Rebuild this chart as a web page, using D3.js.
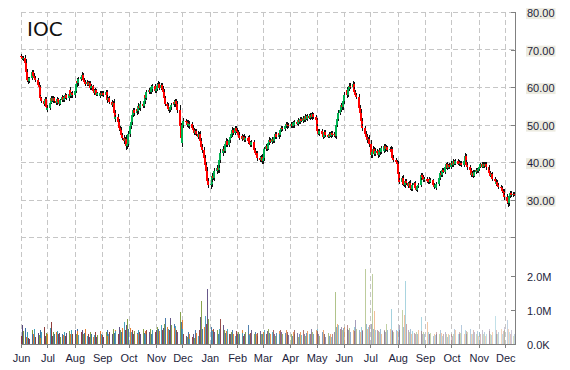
<!DOCTYPE html>
<meta charset="utf-8">
<head>
<style>
	body { margin: 0; background: #fff; }
	svg { display: block; font-family: "DejaVu Sans", Verdana, sans-serif; }
	.grid line { stroke: #c6c6c6; stroke-dasharray: 5,3; shape-rendering: crispEdges; }
	.axis path, .axis line { stroke: #808080; shape-rendering: crispEdges; }
	.axis text { fill: #1e1e3c; font-size: 11px; }
</style>
</head>
<body>
	<div id="chartId"></div>
</body>
<script src="https://d3js.org/d3.v7.min.js"></script>
<script>

var ticker = "IOC";
var firstDay = new Date(2011, 5, 1);
var lastDay = new Date(2012, 11, 11);
var priceTicks = [20, 30, 40, 50, 60, 70, 80];
var volumeTicks = [0, 1, 2];   // millions
var firstOpen = 68.3;

// daily closes, one line per month (Jun 2011 .. Dec 2012)
var closes = [
	68.0,67.5,67.8, 66.5,64.0,62.0,61.5,62.3, 63.5,64.0,63.0,62.5,61.8, 60.5,60.0,57.5,57.0,56.2, 55.6,56.8,54.6,53.8,
	54.5, 55.8,57.2,56.4,57.0,56.2, 55.7,56.8,56.0,55.4,56.6, 57.3,56.5,57.2,57.8,57.0, 58.2,59.3,57.6,58.4,57.8,
	59.0,60.8,61.6,61.0,62.2, 62.8,63.2,62.0,61.4,60.8, 61.3,60.6,61.0,59.8,60.2, 59.0,58.4,59.2,58.0,58.3, 57.6,58.4,58.0,
	58.5,57.8, 58.6,57.2,56.5,57.0,56.0, 55.2,55.8,53.0,51.5,52.0, 50.8,49.0,48.6,47.2,46.5, 45.5,46.2,44.2,44.8,47.5,
	49.5,50.8,52.6,53.8,53.0, 54.2,53.5,55.0,54.3,55.6, 55.0,56.2,57.8,57.2,58.6, 59.3,58.8,60.0,59.4,60.2, 59.0,
	59.6,60.4,60.8,59.8, 60.5,59.5,58.8,57.0,55.5, 55.0,54.2,53.8,54.6,55.2, 56.0,55.4,56.2,55.6,54.0, 49.5,46.5,45.0,
	49.8,51.0, 50.6,49.8,50.4,49.5,50.2, 49.2,48.5,47.8,48.3,47.6, 46.8,47.5,45.5,44.0,43.2, 41.0,39.2,37.5,35.0,33.8,
	34.2,35.5,36.4,35.8,37.6, 38.5,37.8,39.2,40.6,42.5, 43.6,43.0,44.8,45.5,44.6, 45.8,46.8,47.5,48.6,47.8, 49.0,48.4,
	48.0,47.2,46.5, 47.0,46.2,46.8,45.9,46.4, 45.5,46.6,45.2,44.6,45.3, 43.2,42.5,41.8,42.3,41.0, 40.6,41.4,40.2,
	41.0,43.5, 44.2,43.6,45.2,46.0,45.4, 46.2,45.6,46.8,47.5,46.6, 47.8,47.2,48.5,49.2,48.8, 49.6,50.2,49.5,50.0,49.6,
	50.2,49.6,50.4,49.8,50.6, 50.2,51.2,50.6,51.6,51.0, 51.8,51.2,52.2,51.5,52.4, 51.8,52.6,51.9,52.8,52.0, 51.2,
	49.5,48.2,47.6,48.3, 47.5,46.8,47.6,48.0,47.2, 46.8,47.5,47.0,47.8,47.2, 47.5,46.9,50.0,51.6,53.2, 54.0,55.2,54.6,56.4,
	57.8, 59.2,58.0,59.6,60.4,60.0, 60.8,59.5,58.6,58.0,57.4, 54.5,53.2,51.0,49.5,49.0, 47.6,46.8,45.8,46.2,44.8,
	42.0,42.8,43.5,42.2,43.0, 42.4,41.8,43.2,42.6,43.8, 43.0,44.2,43.4,44.0,43.2, 43.6,42.8,43.4,41.2,40.6, 40.0,39.6,
	36.8,35.2,34.6, 35.8,34.2,33.8,35.0,34.4, 33.6,34.5,33.2,32.8,33.9, 34.3,33.1,32.6,33.5,34.0, 35.8,36.6,36.0,35.2,35.6,
	35.0,34.6,35.4,34.8,35.2, 34.0,33.4,33.8,33.2,34.2, 35.8,37.2,36.6,38.0,37.4, 38.6,39.4,38.5,39.2,38.6,
	39.8,39.2,40.2,39.6,40.4, 39.5,40.0,39.4,39.8,39.2, 40.2,41.6,40.0,39.3,38.6, 37.8,36.5,37.2,36.4,37.4, 38.0,37.6,38.2,
	38.8,39.4, 38.8,39.6,39.0,39.5,38.6, 38.0,37.2,36.4,36.8,35.6, 35.0,34.2,34.8,33.8,33.4, 33.0,32.4,32.0,31.2,30.6,
	29.5,29.0,31.0,31.8,31.2, 31.6,31.4
];

// how far each day's high / low reach past the candle body
var wicks = [
	.5,.4,.6, .8,1.0,.7,.6,.5, .4,.6,.5,.7,.4, .5,.8,.6,.5,.4, .7,.5,.6,.5,
	.5, .6,.4,.5,.7,.4, .5,.6,.4,.5,.3, .5,.4,.6,.5,.4, .6,.7,.5,.4,.6,
	.6,.5,.7, .4,.6,.5,.7,.5, .4,.6,.5,.4,.5, .6,.5,.4,.6,.5, .4,.5,.6,.4,.5,
	.5,.4, .6,.5,.7,.4,.6, .5,.6,.9,.8,.6, .7,.8,.6,.7,.5, .8,.6,.9,.7,.8,
	.9,.7,.8,.6,.7, .5,.6,.7,.5,.6, .5,.6,.7,.5,.6, .5,.7,.6,.5,.6, .7,
	.5,.6,.7,.5, .6,.5,.7,.8,.6, .5,.7,.6,.5,.6, .5,.6,.7,.5,.8, 1.2,1.0,.9,
	.9,.7, .6,.5,.7,.5,.6, .5,.6,.7,.5,.6, .7,.6,.8,.9,.7, .8,1.0,.9,1.1,.8,
	.9,.8,.7,.6,.8, .7,.6,.8,.7,.9, .8,.7,.6,.8,.7, .6,.7,.5,.8,.6, .7,.6,
	.6,.5,.7, .5,.6,.4,.6,.5, .6,.5,.7,.5,.6, .7,.6,.5,.7,.6, .6,.5,.7,
	.7,.6, .5,.6,.5,.7,.4, .6,.5,.4,.6,.5, .4,.5,.6,.5,.4, .5,.4,.6,.5,.4,
	.5,.4,.5,.4,.6, .4,.5,.4,.5,.4, .5,.4,.6,.4,.5, .4,.5,.4,.6,.4, .5,
	.6,.7,.5,.6, .5,.6,.4,.5,.6, .4,.5,.4,.5,.4, .5,.4,.8,.7,.6, .7,.6,.8,.7,
	.8, .7,.8,.6,.7,.6, .7,.6,.5,.6,.5, .8,.7,.9,.7,.6, .7,.6,.8,.6,.9,
	1.0,.8,.7,.6,.7, .5,.6,.5,.6,.5, .6,.5,.6,.5,.4, .5,.6,.5,.7,.6, .5,.6,
	.7,.6,.5, .6,.7,.5,.6,.5, .4,.5,.6,.5,.4, .5,.6,.4,.5,.4, .6,.5,.4,.5,.4,
	.5,.4,.5,.4,.5, .4,.5,.4,.6,.5, .6,.5,.6,.5,.4, .5,.4,.5,.4,.5,
	.5,.4,.5,.4,.5, .4,.5,.4,.5,.4, .5,.9,.6,.5,.6, .7,.6,.5,.6,.5, .5,.4,.5,
	.5,.4, .5,.4,.5,.4,.6, .5,.6,.5,.4,.6, .5,.6,.4,.5,.6, .5,.6,.5,.7,.6,
	.8,.9,.6,.5,.6, .4,.5
];

// daily volume in millions
var volumes = [
	.25,.55,.38, .48,.22,.36,.18,.15, .42,.3,.28,.45,.2, .33,.27,.4,.19,.35, .5,.24,.31,.26,
	.3, .48,.66,.25,.34,.3, .36,.38,.28,.31,.22, .29,.27,.35,.24,.32, .38,.26,.3,.41,.28,
	.4,.3,.44,.38,.27, .35,.42,.29,.33,.45, .25,.3,.22,.36,.28, .2,.26,.34,.21,.27, .32,.38,.3,
	.26,.2, .34,.42,.25,.3,.36, .28,.45,.33,.4,.38, .3,.5,.42,.35,.48, .64,.4,.55,.75,.45,
	.48,.36,.42,.3,.38, .33,.28,.4,.35,.3, .44,.32,.37,.3,.4, .34,.45,.29,.38,.42, .36,
	.4,.5,.45,.38, .55,.42,.48,.6,.77, .5,.45,.4,.77,.55, .6,.48,.52,.4,.35, .95,.65,.7,
	.45,.3, .25,.2,.35,.28,.15, .22,.3,.18,.4,.33, .25,.42,.8,1.27,.45, .5,.83,.6,1.61,.73,
	.5,.42,.38,.45,.36, .4,.3,.35,.45,.74, .57,.4,.32,.38,.45, .3,.28,.35,.42,.3, .25,.38,
	.3,.35,.28, .4,.32,.25,.3,.36, .57,.3,.27,.33,.4, .28,.35,.3,.25,.32, .38,.28,.3,
	.35,.42, .3,.38,.45,.32,.28, .36,.4,.3,.25,.33, .38,.3,.42,.35,.28, .32,.4,.3,.36,.27,
	.3,.25,.35,.28,.4, .32,.22,.3,.36,.27, .42,.3,.25,.33,.38, .28,.3,.45,.35,.3, .4,
	.45,.38,.3,.25, .35,.42,.3,.28,.2, .32,.25,.3,.22,.28, .35,1.54,.5,.6,.55, .45,.5,.4,.48,
	.5, .45,.55,.4,.48,.35, .42,.5,.38,.72,.45, .4,.35,.5,.42,.38, 2.22,.6,.45,.5,.55,
	.6,2.06,.45,.96,.4, .42,.38,.35,.45,.3, .38,.42,.35,.6,.4, .45,1.03,.38,.42,.35, .4,.38,
	.45,.4,.55, 1.0,.5,.86,1.86,.6, .4,.35,.45,.3,.38, .32,.28,.35,.3,.42, .8,.38,.3,.35,.28,
	.65,.35,.3,.28,.33, .25,.3,.27,.35,.28, .3,.4,.33,.25,.3, .35,.28,.22,.3,.26,
	.3,.25,.28,.45,.4, .3,.35,.28,.32,.55, .3,.42,.38,.3,.35, .45,.3,.28,.4,.35, .3,.38,.25,
	.35,.3, .4,.28,.35,.25,.3, .38,.45,.3,.27,.35, .83,.4,.28,.3,.35, .45,.3,.38,.5,.42,
	.7,.45,.35,.3,.4, .25,.3
];

var volColors = ['#8e3b39', '#5a4a80', '#7d9b3d', '#3b71a5', '#e27a2c', '#3f9fb8'];
var upColor = '#00b050', downColor = '#ff0000';

var width = 570, height = 370;
var plotLeft = 21, plotRight = 515, plotTop = 12, priceBottom = 237, volBottom = 344;

var svg = d3.select('#chartId').append('svg')
	.attr('width', width)
	.attr('height', height);

svg.append('rect').attr('width', width).attr('height', height).attr('fill', '#fff');

// trading days = weekdays
var days = d3.timeDay.range(firstDay, d3.timeDay.offset(lastDay, 1)).filter(function(d) {
	return d.getDay() > 0 && d.getDay() < 6;
});

var data = days.map(function(d, i) {
	var c = closes[i];
	var o = i ? closes[i - 1] : firstOpen;
	return {
		date: d, open: o, close: c,
		high: Math.max(o, c) + wicks[i],
		low: Math.min(o, c) - wicks[i],
		vol: volumes[i]
	};
});

var x = d3.scaleTime()
	.domain([firstDay, d3.timeDay.offset(lastDay, 1)])
	.range([plotLeft, plotRight]);

var yPrice = d3.scaleLinear().domain([20, 80]).range([priceBottom, plotTop]);
var yVol = d3.scaleLinear().domain([0, 2]).range([volBottom, 276]);

var months = d3.timeMonth.range(firstDay, x.domain()[1]);

// grid
var grid = svg.append('g').attr('class', 'grid');
grid.selectAll('.h').data(priceTicks).enter().append('line')
	.attr('x1', plotLeft).attr('x2', plotRight)
	.attr('y1', function(d) { return Math.round(yPrice(d)) + 0.5; })
	.attr('y2', function(d) { return Math.round(yPrice(d)) + 0.5; });
grid.selectAll('.v').data(months).enter().append('line')
	.attr('x1', function(d) { return Math.round(x(d)) + 0.5; })
	.attr('x2', function(d) { return Math.round(x(d)) + 0.5; })
	.attr('y1', plotTop).attr('y2', volBottom);

// volume bars
var fade = d3.scaleLinear().domain([0, 180, 280, data.length - 1]).range([1, 0.9, 0.5, 0.3]);
svg.append('g').selectAll('rect').data(data).enter().append('rect')
	.attr('x', function(d) { return Math.round(x(d.date)); })
	.attr('width', 1)
	.attr('y', function(d) { return yVol(d.vol); })
	.attr('height', function(d) { return volBottom - yVol(d.vol); })
	.attr('fill', function(d, i) { return volColors[i % volColors.length]; })
	.attr('fill-opacity', function(d, i) { return fade(i); })
	.attr('shape-rendering', 'crispEdges');

// candles: one group per day, wick first then the body on top
var candles = svg.append('g').attr('shape-rendering', 'crispEdges')
	.selectAll('g').data(data).enter().append('g');

candles.append('rect')
	.attr('x', function(d) { return Math.round(x(d.date)); })
	.attr('width', 1)
	.attr('y', function(d) { return yPrice(d.high); })
	.attr('height', function(d) { return yPrice(d.low) - yPrice(d.high); })
	.attr('fill', '#111');

candles.append('rect')
	.attr('x', function(d) { return Math.round(x(d.date)) - 1; })
	.attr('width', 2)
	.attr('y', function(d) { return yPrice(Math.max(d.open, d.close)); })
	.attr('height', function(d) { return Math.max(1, Math.abs(yPrice(d.open) - yPrice(d.close))); })
	.attr('fill', function(d) { return d.close >= d.open ? upColor : downColor; });

// right axis line
svg.append('line')
	.attr('x1', plotRight + 0.5).attr('x2', plotRight + 0.5)
	.attr('y1', plotTop).attr('y2', volBottom)
	.attr('stroke', '#808080')
	.attr('shape-rendering', 'crispEdges');

var priceAxis = d3.axisRight(yPrice)
	.tickValues(priceTicks)
	.tickSize(-4).tickSizeOuter(0).tickPadding(12)
	.tickFormat(function(d) { return d === 20 ? '' : d3.format('.2f')(d); });

var pAx = svg.append('g').attr('class', 'axis').attr('transform', 'translate(' + plotRight + ',0)').call(priceAxis);
pAx.select('.domain').remove();
pAx.selectAll('text').attr('dy', '0.42em');
pAx.selectAll('.tick').each(function(d) {
	if (d === 20) return;
	var t = d3.select(this).select('text');
	var b = t.node().getBBox();
	d3.select(this).insert('rect', 'text')
		.attr('x', b.x - 1).attr('y', b.y + 1)
		.attr('width', b.width + 2).attr('height', b.height - 1)
		.attr('fill', '#ecebe0');
});

var volAxis = d3.axisRight(yVol)
	.tickValues(volumeTicks)
	.tickSize(-4).tickSizeOuter(0).tickPadding(12)
	.tickFormat(function(d) { return d === 0 ? '0.0K' : d.toFixed(1) + 'M'; });
var vAx = svg.append('g').attr('class', 'axis').attr('transform', 'translate(' + plotRight + ',0)').call(volAxis);
vAx.select('.domain').remove();
vAx.selectAll('text').attr('dy', '0.42em');

var xAxis = d3.axisBottom(x)
	.tickValues(months)
	.tickFormat(d3.timeFormat('%b'))
	.tickSize(4).tickSizeOuter(0).tickPadding(6);
svg.append('g').attr('class', 'axis').attr('transform', 'translate(0,' + volBottom + ')').call(xAxis);

// title
svg.append('text')
	.attr('x', 27).attr('y', 36)
	.attr('font-size', 20)
	.attr('fill', '#111')
	.text(ticker);

</script>
